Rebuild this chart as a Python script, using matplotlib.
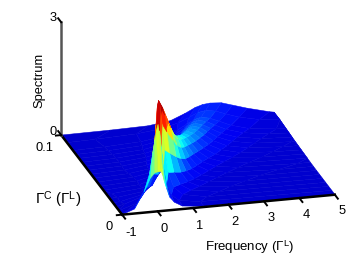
import matplotlib
matplotlib.use("Agg")
import numpy as np
import matplotlib.pyplot as plt
from matplotlib.colors import Normalize, LinearSegmentedColormap

plt.rcParams['font.family'] = ['Liberation Sans', 'DejaVu Sans']
plt.rcParams['mathtext.fontset'] = 'custom'
plt.rcParams['mathtext.rm'] = 'Liberation Sans'
plt.rcParams['mathtext.it'] = 'Liberation Serif'
plt.rcParams['mathtext.bf'] = 'Liberation Sans'

gamma_c = [0, .005, .01, .015, .02, .025, .03, .035, .04, .045, .05, .055, .06, .065, .07, .075, .08, .09, .1]
ridge_freq = [.1, .1, .2, .4, .65, .82, 1.0, 1.14, 1.28, 1.44, 1.6, 1.78, 1.95, 2.1, 2.25, 2.42, 2.6, 2.9, 3.2]
width_left = [.3, .15, .12, .15, .18, .21, .25, .28, .32, .37, .42, .46, .5, .54, .58, .63, .68, .78, .7]
width_right = [.15, .15, .17, .2, .22, .26, .3, .36, .42, .48, .55, .6, .65, .7, .75, .8, .85, .95, 1.05]
offsets = [-100, -8, -4, -2.5, -1.6, -1, -.6, -.3, 0, .3, .6, 1, 1.6, 2.5, 4, 8, 100]

spectrum = [
 [0, 0, 0, .12, .55, .90, 1.03, 1.05, 1.05, .95, .78, .60, .35, .20, .08, .02, .01],
 [0, 0, .16, .50, .90, 1.45, 1.80, 2.05, 2.20, 2.02, 1.60, 1.05, .60, .29, .12, .04, .01],
 [0, .05, .20, .45, .85, 1.50, 2.08, 2.56, 2.72, 2.56, 2.08, 1.39, .78, .38, .16, .04, .01],
 [0, .012, .14, .32, .66, 1.18, 1.75, 2.20, 2.40, 2.20, 1.75, 1.18, .66, .32, .14, .035, .01],
 [.01, .02, .11, .26, .53, .95, 1.40, 1.74, 1.90, 1.74, 1.40, .95, .53, .26, .11, .03, .01],
 [.012, .018, .09, .21, .44, .78, 1.14, 1.42, 1.55, 1.42, 1.14, .78, .44, .21, .09, .023, .01],
 [.015, .015, .077, .18, .37, .65, .96, 1.19, 1.30, 1.19, .96, .65, .37, .18, .077, .02, .01],
 [.012, .018, .068, .16, .33, .58, .85, 1.06, 1.16, 1.06, .85, .58, .33, .16, .068, .017, .012],
 [.02, .02, .062, .145, .30, .53, .77, .96, 1.05, .96, .77, .53, .30, .145, .062, .016, .015],
 [.02, .02, .056, .13, .27, .475, .70, .87, .95, .87, .70, .475, .27, .13, .056, .02, .02],
 [.02, .02, .05, .12, .24, .44, .64, .80, .87, .80, .64, .44, .24, .12, .05, .023, .023],
 [.02, .02, .048, .11, .23, .405, .60, .74, .81, .74, .60, .405, .23, .11, .048, .028, .028],
 [.02, .02, .045, .105, .21, .38, .56, .70, .76, .70, .56, .38, .21, .105, .045, .034, .034],
 [.019, .019, .042, .098, .20, .355, .52, .65, .71, .65, .52, .355, .20, .098, .042, .04, .04],
 [.018, .018, .039, .09, .185, .33, .485, .605, .66, .605, .485, .33, .185, .09, .046, .046, .046],
 [.016, .016, .036, .085, .175, .31, .455, .57, .62, .57, .455, .31, .175, .085, .055, .055, .055],
 [.015, .015, .034, .08, .16, .29, .43, .53, .58, .53, .43, .29, .16, .08, .065, .065, .065],
 [.013, .013, .03, .072, .146, .26, .38, .48, .52, .48, .38, .26, .146, .085, .085, .085, .085],
 [0, 0, .01, .03, .11, .27, .40, .46, .48, .46, .37, .25, .10, .08, .08, .08, .08],
]

freq_ticks = [-1, 0, 1, 2, 3, 4, 5]
gamma_ticks = [0, 0.1]
z_ticks = [0, 3]
freq_tick_labels = ['-1', '0', '1', '2', '3', '4', '5']
gamma_tick_labels = ['0', '0.1']
z_tick_labels = ['0', '3']

color_levels = [0, .1, .25, .48, .66, .87, .98, 1.35, 1.7, 1.95, 2.2, 2.62]
color_values = [(0, 0, .8), (0, 0, .84), (0, 0, .95), (0, .12, 1), (0, .45, 1), (0, .78, 1), (0, 1, 1),
                (.5, 1, .5), (1, 1, 0), (1, .55, 0), (1, 0, 0), (.55, 0, 0)]

W, H = 354, 276
fig = plt.figure(figsize=(W / 100, H / 100), dpi=100)
S = 334
ax = fig.add_axes([26.5 / W, -4 / H, S / W, S / H], projection='3d', proj_type='ortho')
ax.set_box_aspect((220.5, 235.6, 120.6), zoom=1.0)
ax.view_init(elev=20.5, azim=-105)
ax.set_xlim(-1, 5)
ax.set_ylim(0, .1)
ax.set_zlim(0, 3)
ax.set_axis_off()
ax.computed_zorder = False
ax.patch.set_alpha(0)

cmap = LinearSegmentedColormap.from_list(
    'spectrum', [(lv / color_levels[-1], c) for lv, c in zip(color_levels, color_values)], N=512)

rf = np.array(ridge_freq)[:, None]
off = np.array(offsets)[None, :]
wl = np.array(width_left)[:, None]
wr = np.array(width_right)[:, None]
X = np.clip(rf + off * np.where(off < 0, wl, wr), -1, 5)
Y = np.array(gamma_c)[:, None] * np.ones_like(X)
Z = np.array(spectrum)
surf = ax.plot_surface(X, Y, Z, cmap=cmap, norm=Normalize(0, color_levels[-1]), rstride=1, cstride=1,
                       shade=False, linewidth=0, antialiased=True, zorder=1)
surf.set_edgecolor('face')
surf.set_linewidth(.35)

black = 'black'
lw = 1.8
ax.plot([-1, 5], [0, 0], [0, 0], color=black, lw=lw, zorder=5)
ax.plot([-1, -1], [0, .1], [0, 0], color=black, lw=lw, zorder=5)
ax.plot([-1, -1], [.1, .1], [0, 3], color='#555555', lw=lw, zorder=5)
for f in freq_ticks:
    ax.plot([f, f], [0, -.005], [0, 0], color=black, lw=1.4, zorder=5)
for g in gamma_ticks:
    ax.plot([-1, -1.15], [g, g], [0, 0], color=black, lw=1.4, zorder=5)
for z in z_ticks:
    ax.plot([-1, -1], [.1, .105], [z, z], color=black, lw=1.4, zorder=5)

def px_text(x, y, s, size=9.3, **kw):
    fig.text(x / W, 1 - y / H, s, ha='center', va='center', fontsize=size, **kw)

for lab, x, y in zip(freq_tick_labels, [131, 164, 200, 235, 271, 306, 342], [233, 229, 226, 222, 218, 215, 211]):
    px_text(x, y, lab)
for lab, x, y in zip(gamma_tick_labels, [109, 44], [227, 148]):
    px_text(x, y, lab)
for lab, x, y in zip(z_tick_labels, [53, 53], [132, 18]):
    px_text(x, y, lab)

px_text(250, 247, r'Frequency ($\mathrm{\Gamma}^{\mathrm{L}}$)', size=9.5)
px_text(58, 200, r'$\mathrm{\Gamma}^{\mathrm{C}}$ ($\mathrm{\Gamma}^{\mathrm{L}}$)', size=10.8)
px_text(39, 80, 'Spectrum', rotation=90)

fig.savefig('out.png', dpi=100)
